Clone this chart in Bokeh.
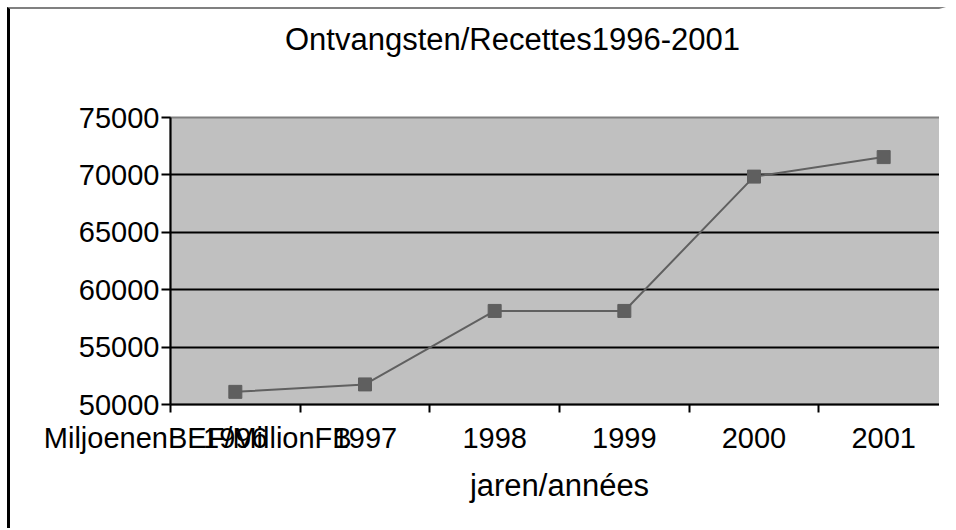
from bokeh.plotting import figure
from bokeh.models import FixedTicker, Range1d, LinearAxis
from bokeh.embed import file_html
from bokeh.resources import INLINE

# ---- data ----
years = [1996, 1997, 1998, 1999, 2000, 2001]
receipts = [51100, 51750, 58150, 58150, 69850, 71550]
y_ticks = [50000, 55000, 60000, 65000, 70000, 75000]
title_text = "Ontvangsten/Recettes1996-2001"
x_title = "jaren/années"
y_title = "MiljoenenBEF/MillionFB"

FONT = "Liberation Sans"

p = figure(width=939, height=521, output_backend="svg", toolbar_location=None,
           x_range=Range1d(years[0] - 0.5, years[-1] + 0.5),
           y_range=Range1d(y_ticks[0], y_ticks[-1]),
           min_border_left=160, min_border_right=1, min_border_top=108, min_border_bottom=126,
           background_fill_color="#c0c0c0", border_fill_color="white",
           outline_line_color="#808080", outline_line_width=2,
           styles={"margin-left": "7px", "margin-top": "7px",
                   "border-left": "3px solid black", "border-top": "2px solid #808080",
                   "border-right": "7px solid white"})

xa = p.below[0]
ya = p.left[0]

# chart title, drawn as the single label of a bare axis above the plot area
title_pos = years[0] + 2.137
title_axis = LinearAxis(ticker=FixedTicker(ticks=[title_pos]),
                        major_label_overrides={title_pos: title_text},
                        axis_line_color=None, major_tick_line_color=None,
                        minor_tick_line_color=None,
                        major_tick_out=0, major_tick_in=0, minor_tick_out=0, minor_tick_in=0,
                        major_label_standoff=61,
                        major_label_text_font=FONT, major_label_text_font_size="31px",
                        major_label_text_color="black")
p.add_layout(title_axis, "above")

# x axis: year labels centred in categories, ticks at category boundaries;
# the (misplaced) value-axis title sits on the same baseline as the year labels
y_title_pos = years[0] - 0.29
xa.ticker = FixedTicker(ticks=[y_title_pos] + years,
                        minor_ticks=[y - 0.5 for y in years] + [years[-1] + 0.5])
overrides = {y: str(y) for y in years}
overrides[y_title_pos] = y_title
xa.major_label_overrides = overrides
xa.major_tick_out = 0
xa.major_tick_in = 0
xa.minor_tick_out = 8
xa.minor_tick_in = 0
xa.minor_tick_line_color = "black"
xa.minor_tick_line_width = 2
xa.axis_line_color = "black"
xa.axis_line_width = 2
xa.major_label_text_font = FONT
xa.major_label_text_font_size = "29px"
xa.major_label_text_color = "black"
xa.major_label_standoff = 9
xa.axis_label = x_title
xa.axis_label_text_font = FONT
xa.axis_label_text_font_size = "31px"
xa.axis_label_text_font_style = "normal"
xa.axis_label_text_color = "black"
xa.axis_label_standoff = 11

# y axis
ya.ticker = FixedTicker(ticks=y_ticks)
ya.major_label_overrides = {v: str(v) for v in y_ticks}
ya.major_tick_out = 9
ya.major_tick_in = 0
ya.major_tick_line_color = "black"
ya.major_tick_line_width = 2
ya.minor_tick_out = 0
ya.minor_tick_in = 0
ya.axis_line_color = "black"
ya.axis_line_width = 2
ya.major_label_text_font = FONT
ya.major_label_text_font_size = "29px"
ya.major_label_text_color = "black"
ya.major_label_standoff = 2

# grid
p.xgrid.visible = False
p.ygrid.ticker = FixedTicker(ticks=y_ticks[1:-1])
p.ygrid.grid_line_color = "black"
p.ygrid.grid_line_width = 2

# series
p.line(years, receipts, line_color="#606060", line_width=2)
p.scatter(years, receipts, marker="square", size=13,
          fill_color="#5f5f5f", line_color="#5f5f5f")

open("out.html", "w").write(file_html(p, INLINE))
